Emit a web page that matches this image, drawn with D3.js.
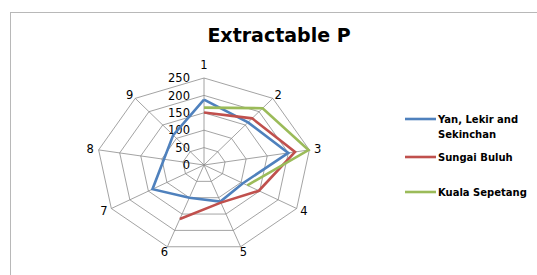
<!DOCTYPE html>
<html>
<head>
<meta charset="utf-8">
<script src="https://cdn.jsdelivr.net/npm/d3@7"></script>
<style>
  body { margin: 0; background: #fff; }
  svg { display: block; }
</style>
</head>
<body>
<svg id="chart" width="537" height="275"></svg>
<script>
const axes = ["1", "2", "3", "4", "5", "6", "7", "8", "9"];
const ticks = [0, 50, 100, 150, 200, 250];
const seriesNames = ["Yan, Lekir and Sekinchan", "Sungai Buluh", "Kuala Sepetang"];
const yanLekirSekinchan = [188, 160, 200, 105, 112, 100, 139, 95, 112];
const sungaiBuluh = [151, 175, 216, 148, 115, 165, null, null, null];
const kualaSepetang = [165, 213, 248, 117, null, null, null, null, null];
const colors = ["#4F81BD", "#C0504D", "#9BBB59"];

const series = [
  { name: seriesNames[0], values: yanLekirSekinchan, color: colors[0], lines: ["Yan, Lekir and", "Sekinchan"] },
  { name: seriesNames[1], values: sungaiBuluh, color: colors[1], lines: ["Sungai Buluh"] },
  { name: seriesNames[2], values: kualaSepetang, color: colors[2], lines: ["Kuala Sepetang"] }
];

const svg = d3.select("#chart");
const W = 537, H = 275;
const cx = 204, cy = 165, rx = 107, ry = 87;

// chart area border
svg.append("rect").attr("x", 10.5).attr("y", 12.5).attr("width", W + 10).attr("height", H + 10)
  .attr("fill", "none").attr("stroke", "#b8b8b8").attr("stroke-width", 1);

// title
svg.append("text").attr("x", 279).attr("y", 42).attr("text-anchor", "middle")
  .attr("font-family", "DejaVu Sans").attr("font-weight", "bold").attr("font-size", 19)
  .attr("fill", "#000").text("Extractable P");

const r = d3.scaleLinear().domain([0, 250]).range([0, 1]);
const angle = d3.scalePoint().domain(axes).range([0, 2 * Math.PI * (axes.length - 1) / axes.length]);

function pt(axis, v) {
  const a = angle(axis), f = r(v);
  return [cx + rx * f * Math.sin(a), cy - ry * f * Math.cos(a)];
}

const g = svg.append("g");

// grid rings
ticks.filter(t => t > 0).forEach(t => {
  const pts = axes.map(a => pt(a, t));
  g.append("polygon").attr("points", pts.map(p => p.join(",")).join(" "))
    .attr("fill", "none").attr("stroke", "#8c8c8c").attr("stroke-width", 0.8);
});

// spokes
axes.forEach(a => {
  const p = pt(a, 250);
  g.append("line").attr("x1", cx).attr("y1", cy).attr("x2", p[0]).attr("y2", p[1])
    .attr("stroke", "#8c8c8c").attr("stroke-width", 0.8);
});

// tick labels
ticks.forEach(t => {
  const p = pt(axes[0], t);
  g.append("text").attr("x", cx - 14).attr("y", p[1]).attr("dy", "0.36em")
    .attr("text-anchor", "end").attr("font-family", "DejaVu Sans").attr("font-size", 11.5)
    .attr("fill", "#000").text(t);
});

// axis labels
axes.forEach(a => {
  const p = pt(a, 250);
  const ang = angle(a);
  const s = Math.sin(ang), c = Math.cos(ang);
  let dx = s * 8.5, dy = -c * 5;
  if (Math.abs(s) < 0.1 && c > 0) dy -= 8;
  g.append("text").attr("x", p[0] + dx).attr("y", p[1] + dy).attr("dy", "0.36em")
    .attr("text-anchor", "middle").attr("font-family", "DejaVu Sans").attr("font-size", 11.5)
    .attr("fill", "#000").text(a);
});

// series lines
const line = d3.line()
  .defined(d => d.v != null)
  .x(d => pt(d.axis, d.v)[0])
  .y(d => pt(d.axis, d.v)[1]);

series.forEach(s => {
  const data = axes.map((a, i) => ({ axis: a, v: s.values[i] }));
  const allDefined = s.values.every(v => v != null);
  const pathData = allDefined ? data.concat([data[0]]) : data;
  g.append("path").attr("d", line(pathData))
    .attr("fill", "none").attr("stroke", s.color).attr("stroke-width", 2.6)
    .attr("stroke-linejoin", "miter");
});

// legend
const legendY = [119, 157, 192];
series.forEach((s, i) => {
  const y = legendY[i];
  svg.append("line").attr("x1", 405).attr("x2", 436).attr("y1", y).attr("y2", y)
    .attr("stroke", s.color).attr("stroke-width", 2.6);
  s.lines.forEach((ln, j) => {
    svg.append("text").attr("x", 438).attr("y", y + j * 15.5).attr("dy", "0.36em")
      .attr("font-family", "DejaVu Sans").attr("font-weight", "bold").attr("font-size", 10)
      .attr("fill", "#000").text(ln);
  });
});
</script>
</body>
</html>
